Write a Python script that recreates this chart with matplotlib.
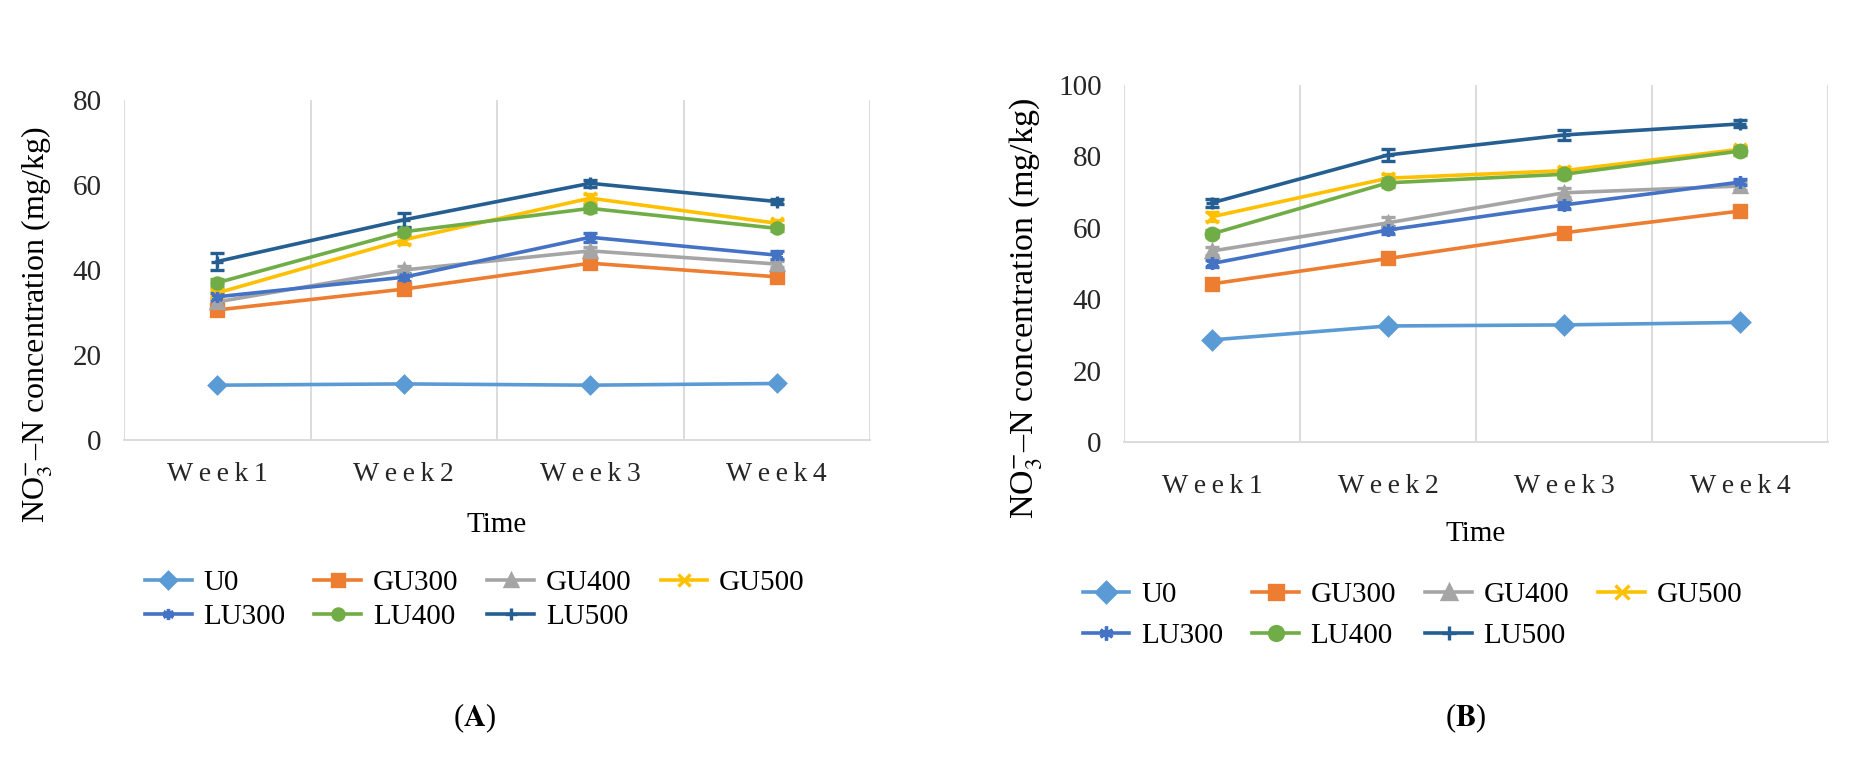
import matplotlib.pyplot as plt
from matplotlib.lines import Line2D
import numpy as np

plt.rcParams['font.family'] = ['Liberation Serif', 'DejaVu Serif']
plt.rcParams['mathtext.fontset'] = 'stix'

weeks = ['Week1', 'Week2', 'Week3', 'Week4']
names = ['U0', 'GU300', 'GU400', 'GU500', 'LU300', 'LU400', 'LU500']
colors = ['#5B9BD5', '#ED7D31', '#A5A5A5', '#FFC000', '#4472C4', '#70AD47', '#255E91']
markers = ['D', 's', '^', 'x', (6, 2, 0), 'o', '+']

# panel A values (mg/kg)
a_U0 = [12.9, 13.2, 12.9, 13.3]
a_GU300 = [30.6, 35.5, 41.6, 38.4]
a_GU400 = [32.5, 40.0, 44.5, 41.4]
a_GU500 = [34.6, 47.1, 56.9, 51.0]
a_LU300 = [33.7, 38.3, 47.7, 43.5]
a_LU400 = [37.0, 49.0, 54.5, 49.8]
a_LU500 = [42.0, 51.8, 60.4, 56.1]
a_err = [
    [0.3, 0.3, 0.3, 0.3],
    [0.6, 0.8, 0.9, 0.7],
    [0.8, 0.9, 0.8, 0.8],
    [0.8, 1.0, 0.9, 0.7],
    [0.9, 0.9, 1.0, 0.9],
    [0.9, 0.9, 0.8, 0.7],
    [1.9, 1.6, 0.8, 0.6],
]

# panel B values (mg/kg)
b_U0 = [28.6, 32.5, 32.8, 33.5]
b_GU300 = [44.3, 51.4, 58.6, 64.7]
b_GU400 = [53.5, 61.4, 69.8, 71.7]
b_GU500 = [63.1, 73.9, 76.0, 82.0]
b_LU300 = [50.0, 59.4, 66.4, 72.8]
b_LU400 = [58.3, 72.6, 75.0, 81.5]
b_LU500 = [67.0, 80.4, 86.0, 89.1]
b_err = [
    [0.4, 0.4, 0.4, 0.4],
    [0.6, 0.6, 0.6, 0.6],
    [1.2, 1.5, 1.3, 1.0],
    [1.2, 1.2, 1.0, 1.0],
    [1.0, 1.0, 1.0, 0.9],
    [1.0, 1.3, 1.1, 1.0],
    [1.2, 1.7, 1.3, 1.0],
]

panel_a = [a_U0, a_GU300, a_GU400, a_GU500, a_LU300, a_LU400, a_LU500]
panel_b = [b_U0, b_GU300, b_GU400, b_GU500, b_LU300, b_LU400, b_LU500]

ylabel = 'NO$_3^{-}$–N concentration (mg/kg)'


def spaced(label):
    return '\u2009'.join(label)


def draw_panel(ax, data, errs, ymax, xpad, ms, tpad, ylsize):
    x = np.arange(1, len(weeks) + 1)
    for vals, err, name, col, mk in zip(data, errs, names, colors, markers):
        ax.errorbar(x, vals, yerr=err, color=col, ecolor=col, lw=2.6,
                    marker=mk, markersize=ms, mew=2.4, capsize=5, capthick=1.6,
                    elinewidth=1.6)
    for gx in np.arange(0.5, len(weeks) + 1, 1):
        ax.axvline(gx, color='#D9D9D9', lw=1.3, zorder=0)
    ax.set_xlim(0.5, len(weeks) + 0.5)
    ax.set_ylim(0, ymax)
    ax.set_yticks(np.arange(0, ymax + 1, 20))
    ax.set_xticks(x)
    ax.set_xticklabels([spaced(w) for w in weeks])
    for s in ['top', 'right', 'left']:
        ax.spines[s].set_visible(False)
    ax.spines['bottom'].set_color('#D9D9D9')
    ax.spines['bottom'].set_linewidth(1.3)
    ax.tick_params(axis='y', length=0, pad=16, labelsize=21, labelcolor='#262626')
    ax.tick_params(axis='x', length=0, pad=xpad, labelsize=20, labelcolor='#262626')
    ax.set_ylabel(ylabel, fontsize=ylsize)
    ax.set_xlabel('Time', fontsize=21, labelpad=tpad)


def legend_handles(ms):
    return [Line2D([], [], color=c, marker=m, lw=2.6, markersize=ms, mew=2.4)
            for c, m in zip(colors, markers)]


fig = plt.figure(figsize=(18.57, 7.61), dpi=100)
ax1 = fig.add_axes([0.0668, 0.4218, 0.4017, 0.4468])
ax2 = fig.add_axes([0.6053, 0.4192, 0.3791, 0.4691])

draw_panel(ax1, panel_a, a_err, 80, 16, 8, 18, 23)
draw_panel(ax2, panel_b, b_err, 100, 23, 9, 16, 24.5)
ax1.yaxis.set_label_coords(-0.092, 0.34)
ax2.yaxis.set_label_coords(-0.113, 0.373)

order = [0, 4, 1, 5, 2, 6, 3]
for anchor, ms, ls, cs in [((0.078, 0.251), 8, 0.25, 1.0), ((0.583, 0.236), 10, 0.5, 1.0)]:
    h = legend_handles(ms)
    fig.legend([h[i] for i in order], [names[i] for i in order], loc='upper left',
               bbox_to_anchor=anchor, ncol=4, frameon=False, fontsize=21,
               handlelength=1.6, handletextpad=0.4, columnspacing=cs,
               labelspacing=ls, borderaxespad=0, borderpad=0)

fig.text(474 / 1857, 1 - 718 / 761, r'($\mathbf{A}$)', ha='center', va='center', fontsize=22)
fig.text(1466 / 1857, 1 - 718 / 761, r'($\mathbf{B}$)', ha='center', va='center', fontsize=22)

fig.savefig('out.png', dpi=100)
